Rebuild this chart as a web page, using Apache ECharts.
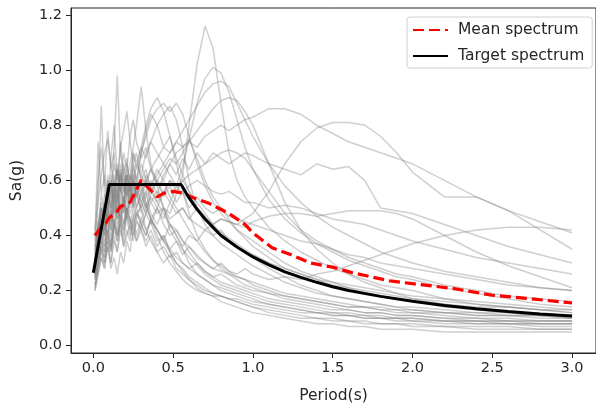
<!DOCTYPE html>
<html>
<head>
<meta charset="utf-8">
<script src="https://cdn.jsdelivr.net/npm/echarts@6/dist/echarts.min.js"></script>
<style>
html,body{margin:0;padding:0;background:#fff;}
#chart{width:596px;height:410px;}
</style>
</head>
<body>
<div id="chart"></div>
<script>
// Periods (s) shared by all ground-motion spectra
const periods = [0.01,0.03,0.05,0.07,0.09,0.11,0.13,0.15,0.17,0.19,0.21,0.23,0.25,0.27,0.30,0.33,0.36,0.40,0.44,0.48,0.52,0.56,0.60,0.65,0.70,0.75,0.80,0.85,0.90,0.95,1.0,1.1,1.2,1.3,1.4,1.5,1.6,1.7,1.8,1.9,2.0,2.2,2.4,2.6,2.8,3.0];

// Individual record spectra Sa(g)
const rec01 = [0.30,0.42,0.55,0.48,0.62,0.52,0.58,0.50,0.63,0.55,0.60,0.52,0.58,0.50,0.55,0.60,0.52,0.56,0.50,0.48,0.55,0.62,0.80,1.02,1.16,1.08,0.88,0.70,0.60,0.54,0.50,0.43,0.38,0.34,0.31,0.28,0.26,0.24,0.22,0.21,0.20,0.17,0.15,0.14,0.13,0.12];
const rec02 = [0.35,0.45,0.40,0.55,0.48,0.60,0.52,0.66,0.58,0.52,0.62,0.56,0.60,0.54,0.62,0.58,0.64,0.60,0.55,0.60,0.58,0.65,0.75,0.88,0.97,1.01,0.99,0.92,0.82,0.72,0.64,0.53,0.46,0.41,0.37,0.34,0.31,0.29,0.27,0.25,0.24,0.21,0.19,0.17,0.15,0.14];
const rec03 = [0.28,0.36,0.45,0.40,0.52,0.46,0.56,0.50,0.45,0.54,0.48,0.58,0.52,0.60,0.55,0.50,0.58,0.62,0.66,0.70,0.74,0.78,0.82,0.87,0.92,0.95,0.96,0.94,0.88,0.82,0.76,0.66,0.58,0.52,0.47,0.43,0.40,0.37,0.34,0.32,0.30,0.27,0.25,0.23,0.21,0.20];
const rec04 = [0.25,0.32,0.38,0.45,0.40,0.50,0.44,0.55,0.48,0.52,0.46,0.56,0.50,0.58,0.52,0.56,0.60,0.55,0.62,0.66,0.70,0.72,0.74,0.78,0.82,0.86,0.89,0.90,0.89,0.85,0.80,0.66,0.52,0.42,0.35,0.30,0.26,0.23,0.21,0.19,0.17,0.15,0.13,0.12,0.11,0.10];
const rec05 = [0.32,0.40,0.48,0.42,0.50,0.45,0.55,0.48,0.58,0.52,0.62,0.58,0.66,0.60,0.70,0.76,0.82,0.86,0.88,0.85,0.88,0.84,0.76,0.66,0.58,0.52,0.48,0.45,0.42,0.40,0.38,0.34,0.30,0.27,0.25,0.23,0.21,0.19,0.18,0.17,0.16,0.14,0.13,0.12,0.11,0.10];
const rec06 = [0.22,0.28,0.35,0.30,0.38,0.34,0.42,0.38,0.45,0.40,0.48,0.44,0.50,0.46,0.52,0.48,0.55,0.60,0.64,0.68,0.66,0.70,0.74,0.72,0.76,0.78,0.80,0.78,0.80,0.82,0.83,0.86,0.86,0.84,0.80,0.77,0.74,0.72,0.70,0.68,0.66,0.60,0.54,0.49,0.45,0.41];
const rec07 = [0.20,0.26,0.32,0.28,0.36,0.30,0.38,0.34,0.42,0.36,0.40,0.44,0.38,0.45,0.42,0.48,0.44,0.50,0.46,0.52,0.48,0.50,0.46,0.50,0.47,0.44,0.46,0.45,0.44,0.46,0.48,0.56,0.66,0.74,0.79,0.81,0.81,0.80,0.76,0.70,0.63,0.54,0.54,0.49,0.42,0.35];
const rec08 = [0.30,0.38,0.34,0.44,0.40,0.48,0.42,0.50,0.46,0.54,0.48,0.52,0.58,0.50,0.56,0.62,0.58,0.64,0.60,0.66,0.62,0.68,0.64,0.70,0.66,0.70,0.68,0.66,0.68,0.70,0.69,0.66,0.64,0.62,0.66,0.64,0.65,0.60,0.50,0.49,0.48,0.44,0.40,0.36,0.33,0.30];
const rec09 = [0.26,0.32,0.38,0.34,0.42,0.36,0.44,0.40,0.46,0.42,0.50,0.45,0.40,0.46,0.42,0.38,0.42,0.36,0.40,0.35,0.38,0.33,0.36,0.32,0.30,0.28,0.30,0.27,0.26,0.28,0.26,0.24,0.25,0.24,0.26,0.27,0.29,0.31,0.33,0.35,0.37,0.40,0.42,0.43,0.43,0.42];
const rec10 = [0.24,0.30,0.36,0.32,0.40,0.35,0.44,0.38,0.46,0.42,0.50,0.46,0.42,0.48,0.44,0.40,0.46,0.42,0.38,0.44,0.40,0.36,0.40,0.38,0.42,0.44,0.46,0.45,0.44,0.43,0.45,0.47,0.48,0.48,0.47,0.48,0.49,0.49,0.49,0.48,0.46,0.40,0.34,0.29,0.25,0.21];
const rec11 = [0.25,0.38,0.50,0.45,0.60,0.55,0.72,0.98,0.70,0.62,0.55,0.60,0.52,0.48,0.50,0.42,0.45,0.38,0.40,0.34,0.30,0.28,0.25,0.23,0.21,0.19,0.18,0.17,0.16,0.15,0.14,0.12,0.11,0.10,0.10,0.09,0.09,0.08,0.08,0.08,0.07,0.07,0.06,0.06,0.06,0.06];
const rec12 = [0.30,0.55,0.87,0.55,0.50,0.62,0.48,0.58,0.44,0.52,0.46,0.40,0.44,0.38,0.42,0.36,0.40,0.34,0.30,0.33,0.28,0.26,0.24,0.22,0.20,0.19,0.18,0.17,0.17,0.16,0.15,0.14,0.13,0.12,0.12,0.11,0.11,0.10,0.10,0.10,0.09,0.09,0.08,0.08,0.08,0.08];
const rec13 = [0.21,0.30,0.36,0.32,0.40,0.34,0.45,0.40,0.52,0.48,0.60,0.66,0.72,0.80,0.94,0.78,0.66,0.58,0.50,0.44,0.40,0.35,0.30,0.26,0.24,0.22,0.20,0.19,0.18,0.17,0.16,0.15,0.14,0.13,0.12,0.12,0.11,0.11,0.10,0.10,0.10,0.09,0.09,0.08,0.08,0.08];
const rec14 = [0.28,0.40,0.48,0.42,0.55,0.50,0.58,0.52,0.62,0.56,0.66,0.60,0.70,0.64,0.72,0.80,0.86,0.90,0.85,0.76,0.66,0.56,0.48,0.40,0.35,0.31,0.28,0.26,0.24,0.22,0.21,0.19,0.17,0.16,0.15,0.14,0.13,0.12,0.12,0.11,0.11,0.10,0.09,0.09,0.09,0.09];
const rec15 = [0.33,0.42,0.50,0.46,0.56,0.50,0.60,0.54,0.64,0.58,0.54,0.62,0.58,0.66,0.62,0.70,0.74,0.80,0.84,0.87,0.82,0.72,0.60,0.50,0.44,0.40,0.37,0.35,0.33,0.31,0.29,0.26,0.23,0.21,0.19,0.18,0.17,0.16,0.15,0.14,0.14,0.13,0.12,0.12,0.11,0.11];
const rec16 = [0.36,0.44,0.52,0.48,0.60,0.54,0.66,0.60,0.72,0.78,0.85,0.74,0.66,0.70,0.60,0.64,0.56,0.52,0.48,0.44,0.42,0.38,0.34,0.30,0.27,0.25,0.23,0.22,0.21,0.20,0.19,0.17,0.16,0.15,0.14,0.13,0.13,0.12,0.12,0.11,0.11,0.10,0.10,0.09,0.09,0.09];
const rec17 = [0.22,0.28,0.34,0.30,0.36,0.28,0.32,0.26,0.34,0.30,0.38,0.34,0.42,0.38,0.44,0.40,0.46,0.42,0.38,0.34,0.30,0.27,0.24,0.21,0.19,0.18,0.16,0.15,0.14,0.13,0.12,0.11,0.10,0.09,0.08,0.08,0.07,0.07,0.06,0.06,0.06,0.05,0.05,0.05,0.05,0.05];
const rec18 = [0.40,0.52,0.62,0.70,0.75,0.66,0.58,0.64,0.56,0.62,0.54,0.58,0.50,0.56,0.48,0.52,0.46,0.50,0.44,0.40,0.42,0.38,0.36,0.33,0.30,0.28,0.27,0.26,0.25,0.24,0.23,0.21,0.19,0.18,0.17,0.16,0.15,0.14,0.14,0.13,0.13,0.12,0.12,0.11,0.11,0.11];
const rec19 = [0.34,0.42,0.50,0.44,0.54,0.48,0.58,0.52,0.62,0.56,0.64,0.60,0.70,0.66,0.72,0.68,0.74,0.70,0.66,0.62,0.58,0.60,0.56,0.52,0.48,0.44,0.41,0.39,0.37,0.35,0.33,0.30,0.27,0.25,0.23,0.21,0.20,0.19,0.18,0.17,0.16,0.15,0.14,0.14,0.13,0.13];
const rec20 = [0.38,0.74,0.55,0.62,0.50,0.68,0.80,0.62,0.56,0.66,0.58,0.52,0.60,0.54,0.50,0.56,0.48,0.44,0.50,0.42,0.38,0.35,0.32,0.29,0.26,0.24,0.22,0.21,0.20,0.19,0.18,0.16,0.15,0.14,0.13,0.12,0.12,0.11,0.11,0.10,0.10,0.09,0.09,0.09,0.08,0.08];
const rec21 = [0.30,0.36,0.44,0.40,0.48,0.42,0.52,0.46,0.56,0.50,0.58,0.54,0.62,0.56,0.60,0.52,0.46,0.40,0.34,0.30,0.27,0.24,0.22,0.20,0.19,0.18,0.18,0.17,0.16,0.15,0.14,0.13,0.12,0.11,0.10,0.10,0.09,0.09,0.08,0.08,0.08,0.07,0.07,0.07,0.06,0.06];
const rec22 = [0.26,0.34,0.40,0.36,0.46,0.40,0.50,0.44,0.54,0.48,0.56,0.50,0.54,0.58,0.52,0.60,0.64,0.68,0.72,0.70,0.74,0.72,0.75,0.68,0.60,0.54,0.50,0.46,0.42,0.39,0.36,0.32,0.28,0.26,0.24,0.22,0.21,0.20,0.19,0.18,0.17,0.16,0.15,0.14,0.13,0.12];
const rec23 = [0.24,0.30,0.38,0.34,0.42,0.36,0.46,0.40,0.44,0.38,0.48,0.42,0.46,0.50,0.44,0.48,0.52,0.48,0.50,0.46,0.48,0.50,0.46,0.44,0.42,0.40,0.42,0.38,0.36,0.34,0.32,0.28,0.25,0.22,0.20,0.18,0.17,0.16,0.15,0.14,0.13,0.12,0.11,0.11,0.10,0.10];
const rec24 = [0.28,0.36,0.44,0.52,0.46,0.58,0.52,0.64,0.58,0.70,0.64,0.76,0.82,0.74,0.68,0.72,0.64,0.58,0.60,0.54,0.50,0.46,0.42,0.38,0.34,0.31,0.29,0.27,0.25,0.24,0.22,0.20,0.18,0.17,0.16,0.15,0.14,0.14,0.13,0.13,0.12,0.12,0.11,0.11,0.11,0.11];
const rec25 = [0.30,0.40,0.50,0.44,0.56,0.50,0.62,0.54,0.66,0.58,0.62,0.56,0.64,0.58,0.66,0.60,0.56,0.60,0.54,0.58,0.52,0.56,0.50,0.54,0.50,0.48,0.50,0.47,0.46,0.45,0.44,0.42,0.40,0.38,0.37,0.35,0.33,0.32,0.30,0.29,0.28,0.26,0.24,0.22,0.21,0.20];
const rec26 = [0.26,0.34,0.42,0.38,0.48,0.42,0.52,0.46,0.50,0.44,0.54,0.48,0.52,0.56,0.50,0.54,0.58,0.52,0.56,0.60,0.56,0.60,0.62,0.64,0.66,0.68,0.70,0.71,0.70,0.68,0.64,0.56,0.48,0.42,0.38,0.35,0.32,0.30,0.28,0.26,0.25,0.22,0.20,0.18,0.17,0.16];
const rec27 = [0.42,0.60,0.72,0.58,0.78,0.64,0.70,0.56,0.74,0.62,0.68,0.56,0.62,0.54,0.58,0.50,0.46,0.42,0.38,0.35,0.32,0.30,0.28,0.26,0.24,0.22,0.21,0.20,0.19,0.18,0.17,0.15,0.14,0.13,0.12,0.11,0.11,0.10,0.10,0.09,0.09,0.08,0.08,0.08,0.07,0.07];
const rec28 = [0.30,0.36,0.46,0.40,0.50,0.44,0.54,0.48,0.58,0.52,0.62,0.56,0.66,0.60,0.70,0.78,0.84,0.80,0.72,0.76,0.68,0.62,0.56,0.50,0.46,0.42,0.40,0.38,0.36,0.34,0.33,0.30,0.28,0.26,0.24,0.23,0.22,0.21,0.20,0.19,0.18,0.17,0.16,0.15,0.14,0.13];
const rec29 = [0.28,0.34,0.40,0.36,0.44,0.38,0.46,0.42,0.48,0.44,0.50,0.46,0.44,0.48,0.46,0.50,0.54,0.50,0.56,0.52,0.58,0.55,0.58,0.60,0.58,0.56,0.55,0.56,0.54,0.52,0.52,0.50,0.51,0.50,0.48,0.46,0.45,0.44,0.42,0.40,0.38,0.35,0.32,0.30,0.28,0.26];
const rec30 = [0.20,0.26,0.32,0.28,0.38,0.30,0.40,0.34,0.44,0.36,0.42,0.38,0.48,0.40,0.46,0.42,0.38,0.34,0.36,0.32,0.34,0.30,0.28,0.30,0.27,0.25,0.26,0.24,0.22,0.21,0.20,0.19,0.18,0.17,0.16,0.15,0.14,0.14,0.13,0.12,0.12,0.11,0.10,0.10,0.09,0.09];

const records = [rec01,rec02,rec03,rec04,rec05,rec06,rec07,rec08,rec09,rec10,rec11,rec12,rec13,rec14,rec15,rec16,rec17,rec18,rec19,rec20,rec21,rec22,rec23,rec24,rec25,rec26,rec27,rec28,rec29,rec30];

// Mean spectrum
const meanPeriods = [0.01,0.05,0.08,0.10,0.14,0.17,0.23,0.26,0.30,0.34,0.40,0.44,0.50,0.57,0.61,0.72,0.85,0.95,1.0,1.12,1.24,1.36,1.50,1.61,1.74,1.86,2.0,2.25,2.5,2.71,3.0];
const meanValues  = [0.40,0.43,0.445,0.465,0.48,0.505,0.52,0.555,0.60,0.575,0.54,0.553,0.56,0.553,0.54,0.518,0.48,0.44,0.41,0.355,0.33,0.30,0.285,0.267,0.25,0.235,0.225,0.208,0.183,0.172,0.155];

// Target spectrum
const targetPeriods = [0.0,0.1,0.55,0.6,0.65,0.7,0.8,0.9,1.0,1.1,1.2,1.3,1.4,1.5,1.6,1.8,2.0,2.2,2.4,2.6,2.8,3.0];
const targetValues  = [0.265,0.585,0.585,0.536,0.495,0.46,0.40,0.358,0.322,0.293,0.268,0.248,0.23,0.214,0.20,0.179,0.161,0.146,0.134,0.124,0.115,0.108];

const xTicks = [0.0,0.5,1.0,1.5,2.0,2.5,3.0];
const yTicks = [0.0,0.2,0.4,0.6,0.8,1.0,1.2];

const FONT = 'DejaVu Sans';
const INK = '#262626';

const series = records.map((r, k) => ({
  name: 'record' + (k + 1),
  type: 'line',
  data: periods.map((t, i) => [t, r[i]]),
  symbol: 'none',
  silent: true,
  lineStyle: { color: 'rgba(128,128,128,0.38)', width: 1.5 },
  z: 2
}));
series.push({
  name: 'Mean spectrum',
  type: 'line',
  data: meanPeriods.map((t, i) => [t, meanValues[i]]),
  symbol: 'none',
  lineStyle: { color: '#ff0000', width: 3.2, type: [11, 5] },
  itemStyle: { color: '#ff0000' },
  z: 4
});
series.push({
  name: 'Target spectrum',
  type: 'line',
  data: targetPeriods.map((t, i) => [t, targetValues[i]]),
  symbol: 'none',
  lineStyle: { color: '#000000', width: 3 },
  itemStyle: { color: '#000000' },
  z: 5
});

const chart = echarts.init(document.getElementById('chart'), null, { renderer: 'canvas' });
chart.setOption({
  animation: false,
  backgroundColor: '#ffffff',
  grid: { left: 71, top: 8, width: 529, height: 345, show: true, borderColor: INK, borderWidth: 1, backgroundColor: 'transparent' },
  legend: {
    data: ['Mean spectrum', 'Target spectrum'],
    orient: 'vertical',
    left: 407,
    top: 17,
    itemWidth: 35,
    itemHeight: 14,
    itemGap: 10,
    padding: [5, 8, 4, 5],
    borderColor: '#d0d0d0',
    borderWidth: 1,
    borderRadius: 3,
    backgroundColor: 'rgba(255,255,255,0.85)',
    itemStyle: { opacity: 0 },
    textStyle: { fontFamily: FONT, fontSize: 15.5, color: INK, padding: [0, 0, 0, 5] }
  },
  xAxis: {
    type: 'value',
    min: -0.14,
    max: 3.15,
    name: 'Period(s)',
    nameLocation: 'middle',
    nameGap: 35,
    nameTextStyle: { fontFamily: FONT, fontSize: 15.5, color: INK },
    axisLine: { show: true, onZero: false, lineStyle: { color: INK, width: 1 } },
    axisTick: { show: true, length: 5, inside: false, customValues: xTicks, lineStyle: { color: INK } },
    axisLabel: { customValues: xTicks, margin: 8, fontFamily: FONT, fontSize: 14.5, color: INK, formatter: v => v.toFixed(1) },
    splitLine: { show: false }
  },
  yAxis: {
    type: 'value',
    min: -0.0265,
    max: 1.2254,
    name: 'Sa(g)',
    nameLocation: 'middle',
    nameGap: 46,
    nameTextStyle: { fontFamily: FONT, fontSize: 15.5, color: INK },
    axisLine: { show: true, onZero: false, lineStyle: { color: INK, width: 1 } },
    axisTick: { show: true, length: 5, inside: false, customValues: yTicks, lineStyle: { color: INK } },
    axisLabel: { customValues: yTicks, margin: 9, fontFamily: FONT, fontSize: 14.5, color: INK, formatter: v => v.toFixed(1) },
    splitLine: { show: false }
  },
  series: series
});
</script>
</body>
</html>
